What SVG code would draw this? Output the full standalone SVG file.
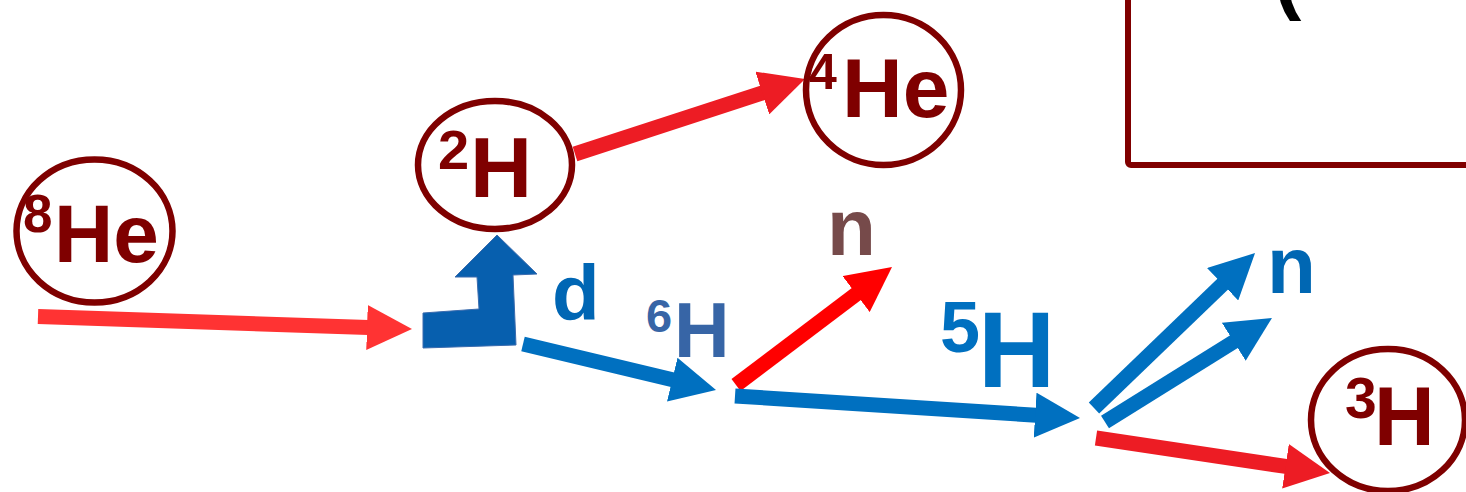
<svg xmlns="http://www.w3.org/2000/svg" width="1466" height="492" viewBox="0 0 1466 492">
<style>
text{font-family:"Liberation Sans",Arial,sans-serif;font-weight:bold}
.nuc{fill:none;stroke:#7F0000;stroke-width:6.5}
.nt{fill:#7F0000}
.arr{fill:none;stroke-width:15;stroke-linecap:butt}
</style>
<defs>
<marker id="hR1" viewBox="0 0 10 10" refX="2" refY="5" markerWidth="3" markerHeight="3" orient="auto" markerUnits="strokeWidth"><path d="M0,0 L10,5 L0,10 z" fill="#FF3333"/></marker>
<marker id="hR2" viewBox="0 0 10 10" refX="2" refY="5" markerWidth="3" markerHeight="3" orient="auto" markerUnits="strokeWidth"><path d="M0,0 L10,5 L0,10 z" fill="#ED1C24"/></marker>
<marker id="hR3" viewBox="0 0 10 10" refX="2" refY="5" markerWidth="3" markerHeight="3" orient="auto" markerUnits="strokeWidth"><path d="M0,0 L10,5 L0,10 z" fill="#FF0000"/></marker>
<marker id="hB" viewBox="0 0 10 10" refX="2" refY="5" markerWidth="3" markerHeight="3" orient="auto" markerUnits="strokeWidth"><path d="M0,0 L10,5 L0,10 z" fill="#0070C0"/></marker>
</defs>
<rect width="1466" height="492" fill="#FFFFFF"/>

<g id="box">
<rect x="1128" y="-30" width="400" height="195" rx="3" fill="none" stroke="#800000" stroke-width="6"/>
<text x="1274" y="4" font-size="82" fill="#000000">(</text>
</g>

<g id="connectors">
<line class="arr" x1="38" y1="316.5" x2="376" y2="327.8" stroke="#FF3333" marker-end="url(#hR1)"/>
<line class="arr" x1="575" y1="154" x2="770.8" y2="90.2" stroke="#ED1C24" marker-end="url(#hR2)"/>
<line class="arr" x1="523" y1="344" x2="681" y2="381.7" stroke="#0070C0" marker-end="url(#hB)"/>
<line class="arr" x1="736" y1="385" x2="863.3" y2="288.7" stroke="#FF0000" marker-end="url(#hR3)"/>
<line class="arr" x1="735" y1="396" x2="1044.1" y2="415.7" stroke="#0070C0" marker-end="url(#hB)"/>
<line class="arr" x1="1094" y1="408" x2="1229.1" y2="278" stroke="#0070C0" marker-end="url(#hB)"/>
<line class="arr" x1="1105" y1="422" x2="1241.4" y2="337" stroke="#0070C0" marker-end="url(#hB)"/>
<line class="arr" x1="1096" y1="438" x2="1294.4" y2="467.7" stroke="#ED1C24" marker-end="url(#hR2)"/>
<polygon points="423,348 423,313 479,309 477,277 455,277 497,235 537,274 513,275 516,345" fill="#075FAE" stroke="#3A6BAE" stroke-width="1"/>
</g>

<g id="he8">
<ellipse class="nuc" cx="94.5" cy="231" rx="78" ry="71.5"/>
<text class="nt" x="23" y="232" font-size="53">8</text>
<text class="nt" x="54" y="262" font-size="82">He</text>
</g>

<g id="h2">
<ellipse class="nuc" cx="495" cy="165" rx="77" ry="64"/>
<text class="nt" x="438" y="169" font-size="56">2</text>
<text class="nt" x="470" y="197" font-size="86">H</text>
</g>

<g id="he4">
<ellipse class="nuc" cx="883.5" cy="90" rx="77.5" ry="75"/>
<text class="nt" x="809" y="89" font-size="50">4</text>
<text class="nt" x="842" y="117" font-size="84">He</text>
</g>

<g id="h3">
<ellipse class="nuc" cx="1388" cy="420" rx="77" ry="71"/>
<text class="nt" x="1345" y="418" font-size="57">3</text>
<text class="nt" x="1374" y="445" font-size="84">H</text>
</g>

<g id="d">
<text x="552" y="320" font-size="78" fill="#0066B4">d</text>
</g>

<g id="h6">
<text x="646" y="332" font-size="47" fill="#3765A6">6</text>
<text x="674" y="357" font-size="77" fill="#3765A6">H</text>
</g>

<g id="n1">
<text x="827" y="255" font-size="80" fill="#764A4A">n</text>
</g>

<g id="h5">
<text x="940" y="352" font-size="72" fill="#0070C0">5</text>
<text x="978" y="387" font-size="107" fill="#0070C0">H</text>
</g>

<g id="n2">
<text x="1267" y="293" font-size="80" fill="#0067B3">n</text>
</g>
</svg>
